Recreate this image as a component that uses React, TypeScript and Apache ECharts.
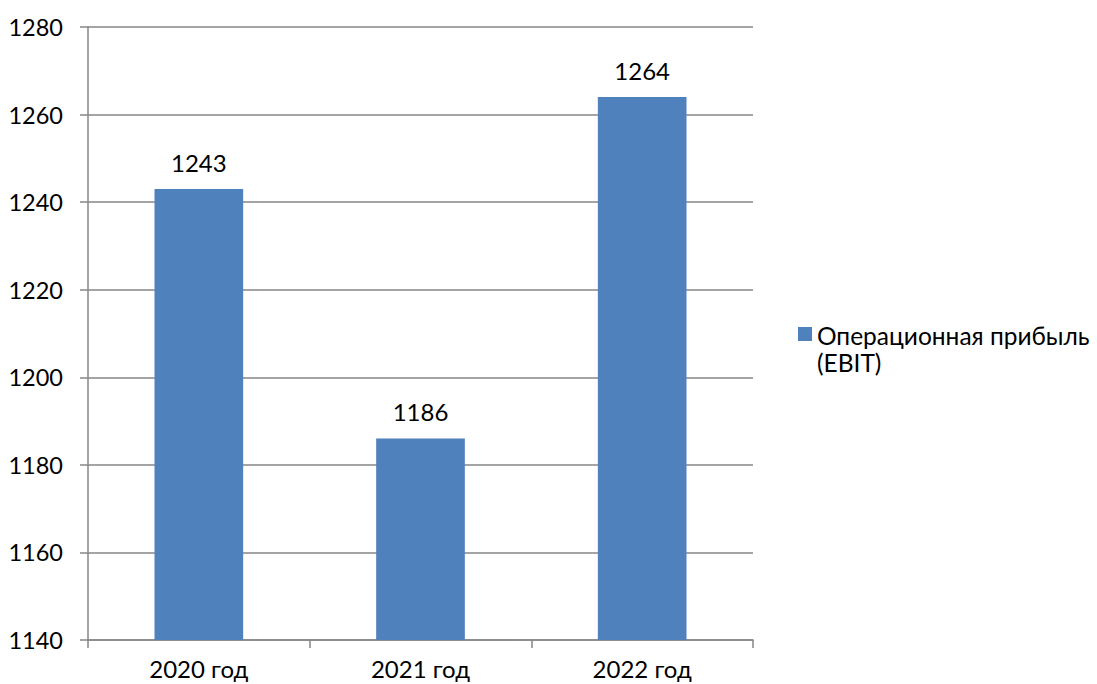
import React, { useEffect, useRef } from "react";
import * as echarts from "echarts";

const categories = ["2020 год", "2021 год", "2022 год"];
const ebitValues = [1243, 1186, 1264];
const seriesName = "Операционная прибыль (EBIT)";
const legendLines = ["Операционная прибыль", "(EBIT)"];
const yMin = 1140;
const yMax = 1280;
const yStep = 20;

export default function App() {
  const ref = useRef<HTMLDivElement>(null);
  useEffect(() => {
    if (!ref.current) return;
    const chart = echarts.init(ref.current, null, { renderer: "svg" });
    const font = "Lato, 'Open Sans', sans-serif";
    const gray = "#868686";
    chart.setOption({
      animation: false,
      textStyle: { fontFamily: font },
      grid: { left: 88, right: 344, top: 27, bottom: 44 },
      legend: {
        show: true,
        data: [{ name: seriesName, icon: "rect" }],
        left: 793,
        top: 297,
        orient: "vertical",
        itemWidth: 14,
        itemHeight: 14,
        itemGap: 5,
        formatter: () => "{gap| }\n{t|" + legendLines[0] + "}\n{t|" + legendLines[1] + "}",
        textStyle: {
          fontFamily: font,
          fontSize: 24,
          color: "#000",
          rich: {
            gap: { fontSize: 10, lineHeight: 30, fontFamily: font },
            t: { fontSize: 24.5, lineHeight: 27, color: "#000", fontFamily: font },
          },
        },
      },
      xAxis: {
        type: "category",
        data: categories,
        boundaryGap: true,
        axisLine: { lineStyle: { color: gray, width: 1.5 } },
        axisTick: { show: true, length: 8, alignWithLabel: false, lineStyle: { color: gray, width: 1.5 } },
        axisLabel: { color: "#000", fontSize: 24, fontFamily: font, margin: 16 },
      },
      yAxis: {
        type: "value",
        min: yMin,
        max: yMax,
        interval: yStep,
        axisLine: { show: true, lineStyle: { color: gray, width: 1.5 } },
        axisTick: { show: true, length: 8, lineStyle: { color: gray, width: 1.5 } },
        splitLine: { show: true, lineStyle: { color: gray, width: 1.5 } },
        axisLabel: {
          color: "#000",
          fontSize: 23.5,
          fontFamily: font,
          margin: 25,
          formatter: (v: number) => String(v),
        },
      },
      series: [
        {
          name: seriesName,
          type: "bar",
          data: ebitValues,
          barWidth: "40%",
          itemStyle: { color: "#4F81BD" },
          label: {
            show: true,
            position: "top",
            distance: 15,
            color: "#000",
            fontSize: 24,
            fontFamily: font,
          },
        },
      ],
    });
    return () => chart.dispose();
  }, []);
  return <div ref={ref} style={{ width: 1097, height: 684, position: "absolute", left: 0, top: 0 }} />;
}
